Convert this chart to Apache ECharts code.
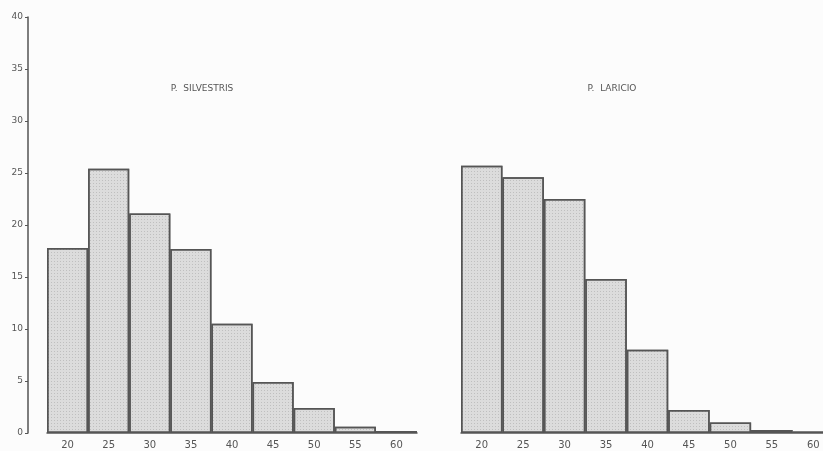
<!DOCTYPE html>
<html><head><meta charset="utf-8">
<script src="https://cdn.jsdelivr.net/npm/echarts@6/dist/echarts.min.js"></script>
<style>html,body{margin:0;padding:0;background:#fcfcfc;overflow:hidden}#c{width:840px;height:451px}</style>
</head><body><div id="c"></div>
<script>
const categories = ['20','25','30','35','40','45','50','55','60'];
const silvestris = [17.8, 25.4, 21.1, 17.7, 10.5, 4.9, 2.4, 0.6, 0.2];
const laricio = [25.7, 24.6, 22.5, 14.8, 8.0, 2.2, 1.0, 0.3, 0.15];
const yTicks = [0, 5, 10, 15, 20, 25, 30, 35, 40];
const titles = ['P.  SILVESTRIS', 'P.  LARICIO'];

const chart = echarts.init(document.getElementById('c'));
const barStyle = {color:'#dcdcdc', borderColor:'#555', borderWidth:1.5,
  decal:{symbol:'rect', symbolSize:1, color:'rgba(0,0,0,0.13)', dashArrayX:[1,2], dashArrayY:[1,2], rotation:0}};
const xAx = (gi) => ({
  type:'category', gridIndex:gi, data:categories,
  axisLine:{show:true, lineStyle:{color:'#555', width:1.5}},
  axisTick:{show:false},
  axisLabel:{color:'#555', fontSize:10, margin:7, fontFamily:'DejaVu Sans'}
});
chart.setOption({
  backgroundColor:'#fcfcfc',
  animation:false,
  title:[
    {text:titles[0], left:197, top:79, textAlign:'center', textStyle:{fontSize:9, fontWeight:'normal', color:'#555', fontFamily:'DejaVu Sans'}},
    {text:titles[1], left:607, top:79, textAlign:'center', textStyle:{fontSize:9, fontWeight:'normal', color:'#555', fontFamily:'DejaVu Sans'}}
  ],
  grid:[
    {left:47, width:370, top:17, bottom:18},
    {left:461, width:373, top:17, bottom:18}
  ],
  xAxis:[xAx(0), xAx(1)],
  yAxis:[
    {type:'value', gridIndex:0, min:0, max:40, interval:5, offset:19,
     axisLine:{show:true, lineStyle:{color:'#555', width:1.5}},
     axisTick:{show:true, length:3, lineStyle:{color:'#555'}},
     splitLine:{show:false},
     axisLabel:{color:'#555', fontSize:9, margin:5, fontFamily:'DejaVu Sans',
       formatter:(v)=> yTicks.includes(v) ? String(v) : ''}},
    {type:'value', gridIndex:1, min:0, max:40, interval:5, show:false, splitLine:{show:false}}
  ],
  series:[
    {type:'bar', xAxisIndex:0, yAxisIndex:0, data:silvestris, barCategoryGap:'0%', itemStyle:barStyle},
    {type:'bar', xAxisIndex:1, yAxisIndex:1, data:laricio, barCategoryGap:'0%', itemStyle:barStyle}
  ]
});
</script></body></html>
